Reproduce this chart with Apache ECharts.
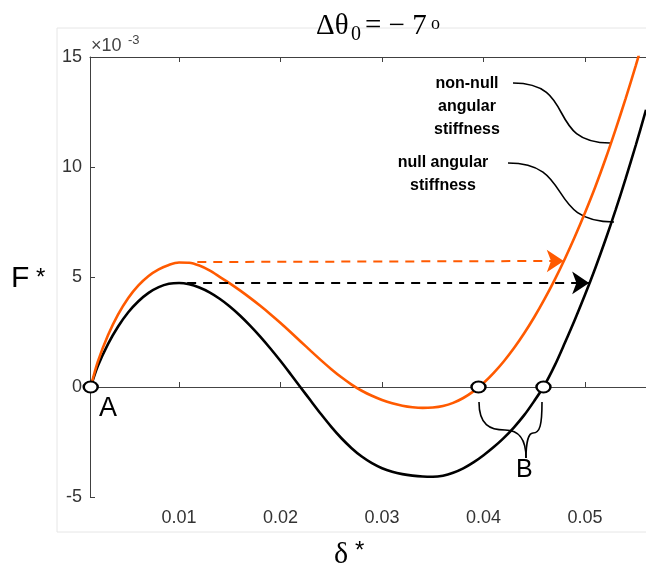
<!DOCTYPE html>
<html>
<head>
<meta charset="utf-8">
<script src="https://cdn.jsdelivr.net/npm/echarts@6/dist/echarts.min.js"></script>
<style>
html,body{margin:0;padding:0;background:#fff;}
#main{width:646px;height:565px;}
</style>
</head>
<body>
<div id="main"></div>
<script>
// 刻度
var xTicks=[0.01,0.02,0.03,0.04,0.05];
var yTicks=[-5,0,5,10,15];

// 位移 δ*
var delta=[0.0013,0.002,0.003,0.004,0.005,0.006,0.007,0.008,0.009,0.010,
    0.011,0.012,0.013,0.014,0.015,0.016,0.017,0.018,0.019,0.020,
    0.021,0.022,0.023,0.024,0.025,0.026,0.027,0.028,0.029,0.030,
    0.031,0.032,0.033,0.034,0.035,0.036,0.037,0.038,0.039,0.040,
    0.041,0.042,0.043,0.044,0.045,0.046,0.047,0.048,0.049,0.050,
    0.051,0.052,0.053,0.054,0.055,0.056];

// 无角刚度 (黑线) F*, ×10^-3
var nullF=[0,0.95,1.95,2.75,3.4,3.9,4.28,4.54,4.69,4.73,
    4.67,4.52,4.3,4.01,3.66,3.25,2.79,2.29,1.75,1.18,
    0.58,-0.03,-0.64,-1.24,-1.81,-2.33,-2.78,-3.16,-3.46,-3.69,
    -3.85,-3.96,-4.03,-4.07,-4.08,-4.03,-3.9,-3.7,-3.43,-3.1,
    -2.73,-2.31,-1.83,-1.28,-0.63,0.08,0.97,2.0,3.07,4.2,
    5.4,6.68,8.04,9.48,11.0,12.6];

// 非零角刚度 (橙线) F*, ×10^-3
var stiffF=[0,1.15,2.35,3.3,4.05,4.62,5.05,5.35,5.55,5.66,
    5.65,5.52,5.3,5.01,4.71,4.39,4.05,3.69,3.31,2.91,
    2.49,2.06,1.63,1.21,0.81,0.44,0.11,-0.17,-0.4,-0.59,
    -0.74,-0.85,-0.92,-0.95,-0.93,-0.86,-0.72,-0.5,-0.2,0.18,
    0.64,1.17,1.77,2.44,3.18,3.99,4.87,5.82,6.84,7.93,
    9.09,10.35,11.7,13.12,14.62,16.2];

// 平衡点 A / B
var pointA=[[0.0013,0]];
var pointsB=[[0.0395,0],[0.0459,0]];

// 跳跃箭头
var jumpStiff=[[0.0118,5.68],[0.0479,5.73]];
var jumpNull=[[0.0108,4.73],[0.0504,4.73]];

var orange="#ff5a00";
var axisColor="#404040";

function zip(xs,ys){
    var out=[];
    for(var i=0;i<xs.length;i++){ out.push([xs[i],ys[i]]); }
    return out;
}

var myChart=echarts.init(document.getElementById('main'));
var option={
    animation:false,
    backgroundColor:"#fff",
    grid:{left:90,top:57,right:0,bottom:68},
    xAxis:[{
        type:"value",
        min:0.00123,
        max:0.056,
        axisLine:{show:true,lineStyle:{color:axisColor,width:1}},
        axisTick:{show:true,inside:true,length:5,customValues:xTicks,lineStyle:{color:axisColor}},
        axisLabel:{show:true,customValues:xTicks,margin:12,color:"#333",fontSize:18,fontFamily:"Liberation Sans",
            formatter:function(v){return v.toFixed(2);}},
        splitLine:{show:false}
    },{
        type:"value",
        position:"top",
        min:0.00123,
        max:0.056,
        axisLine:{show:true,onZero:false,lineStyle:{color:axisColor,width:1}},
        axisTick:{show:true,inside:true,length:5,customValues:xTicks,lineStyle:{color:axisColor}},
        axisLabel:{show:false},
        splitLine:{show:false}
    }],
    yAxis:{
        type:"value",
        min:-5,
        max:15,
        interval:5,
        axisLine:{show:true,lineStyle:{color:axisColor,width:1}},
        axisTick:{show:true,inside:true,length:5,lineStyle:{color:axisColor}},
        axisLabel:{margin:8,color:"#333",fontSize:18,fontFamily:"Liberation Sans"},
        splitLine:{show:false}
    },
    series:[
        {
            type:"line",
            data:zip(delta,nullF),
            smooth:0.3,
            showSymbol:false,
            z:3,
            lineStyle:{color:"#000",width:2.6},
            markLine:{
                silent:true,
                symbol:"none",
                label:{show:false},
                lineStyle:{color:"#444",width:1,type:"solid"},
                data:[{yAxis:0}],
                z:1
            }
        },
        {
            type:"line",
            data:zip(delta,stiffF),
            smooth:0.3,
            showSymbol:false,
            z:3,
            lineStyle:{color:orange,width:2.6}
        },
        {
            type:"lines",
            coordinateSystem:"cartesian2d",
            z:4,
            symbol:["none","arrow"],
            symbolSize:[14,17],
            lineStyle:{color:orange,width:2,type:[9,7],opacity:1},
            data:[{coords:jumpStiff}]
        },
        {
            type:"lines",
            coordinateSystem:"cartesian2d",
            z:4,
            symbol:["none","arrow"],
            symbolSize:[14,17],
            lineStyle:{color:"#000",width:2,type:[9,7],opacity:1},
            data:[{coords:jumpNull}]
        },
        {
            type:"scatter",
            data:pointA.concat(pointsB),
            symbol:"circle",
            symbolSize:[14,11],
            z:5,
            itemStyle:{color:"#fff",borderColor:"#000",borderWidth:2.2,opacity:1}
        }
    ],
    graphic:[
        // 外框
        {type:"rect",silent:true,shape:{x:57,y:28,width:700,height:504},style:{fill:"none",stroke:"#e6e6e6",lineWidth:1},z:-1},
        // 标题
        {type:"text",left:316,top:12,style:{text:"Δθ",font:"29px 'Liberation Serif'",fill:"#000"}},
        {type:"text",left:351,top:25,style:{text:"0",font:"20px 'Liberation Serif'",fill:"#000"}},
        {type:"text",left:365,top:12,style:{text:"= − 7",font:"29px 'Liberation Serif'",fill:"#000"}},
        {type:"text",left:431,top:15,style:{text:"o",font:"18px 'Liberation Serif'",fill:"#000"}},
        // ×10^-3
        {type:"text",left:91,top:37,style:{text:"×10",font:"18px 'Liberation Sans'",fill:"#444"}},
        {type:"text",left:128,top:34,style:{text:"-3",font:"13px 'Liberation Sans'",fill:"#444"}},
        // 坐标轴名称
        {type:"text",left:11,top:264,style:{text:"F",font:"30px 'Liberation Sans'",fill:"#000"}},
        {type:"text",left:36,top:266,style:{text:"*",font:"24px 'Liberation Sans'",fill:"#000"}},
        {type:"text",left:334,top:540,style:{text:"δ",font:"30px 'Liberation Serif'",fill:"#000"}},
        {type:"text",left:355,top:539,style:{text:"*",font:"24px 'Liberation Sans'",fill:"#000"}},
        // 标注文字
        {type:"text",x:467,y:72,style:{text:"non-null\nangular\nstiffness",font:"bold 16px 'Liberation Sans'",lineHeight:23,align:"center",fill:"#000"}},
        {type:"text",x:443,y:151,style:{text:"null angular\nstiffness",font:"bold 16px 'Liberation Sans'",lineHeight:23,align:"center",fill:"#000"}},
        {type:"text",x:99,y:395,style:{text:"A",font:"27px 'Liberation Sans'",fill:"#000"}},
        {type:"text",x:516,y:458,style:{text:"B",font:"25px 'Liberation Sans'",fill:"#000"}},
        // 引线
        {type:"bezierCurve",silent:true,shape:{x1:513,y1:83,cpx1:578,cpy1:83,cpx2:545,cpy2:143,x2:610,y2:143},style:{stroke:"#000",lineWidth:1.6,fill:"none"}},
        {type:"bezierCurve",silent:true,shape:{x1:508,y1:163,cpx1:575,cpy1:163,cpx2:545,cpy2:222,x2:614,y2:222},style:{stroke:"#000",lineWidth:1.6,fill:"none"}},
        // B 括号
        {type:"bezierCurve",silent:true,shape:{x1:479,y1:402,cpx1:479,cpy1:425,cpx2:490,cpy2:430,x2:505,y2:430},style:{stroke:"#000",lineWidth:1.6,fill:"none"}},
        {type:"bezierCurve",silent:true,shape:{x1:505,y1:430,cpx1:520,cpy1:430,cpx2:526,cpy2:440,x2:526,y2:458},style:{stroke:"#000",lineWidth:1.6,fill:"none"}},
        {type:"bezierCurve",silent:true,shape:{x1:542,y1:402,cpx1:542,cpy1:425,cpx2:540,cpy2:433,x2:533,y2:433},style:{stroke:"#000",lineWidth:1.6,fill:"none"}},
        {type:"bezierCurve",silent:true,shape:{x1:533,y1:433,cpx1:528,cpy1:433,cpx2:526,cpy2:445,x2:526,y2:458},style:{stroke:"#000",lineWidth:1.6,fill:"none"}}
    ]
};
myChart.setOption(option);
</script>
</body>
</html>
